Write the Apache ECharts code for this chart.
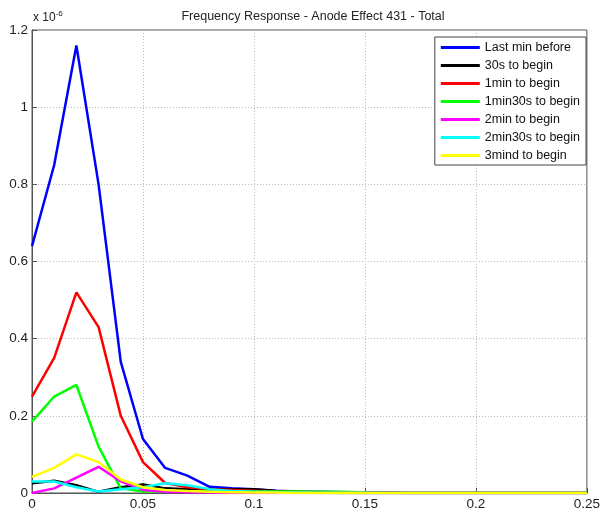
<!DOCTYPE html>
<html>
<head>
<meta charset="utf-8">
<script src="https://cdn.jsdelivr.net/npm/echarts@6/dist/echarts.min.js"></script>
<style>
  html, body { margin: 0; padding: 0; background: #fff; }
  #main { width: 603px; height: 515px; }
</style>
</head>
<body>
<div id="main"></div>
<script>
// frequency axis
const freq = [0, 0.01, 0.02, 0.03, 0.04, 0.05, 0.06, 0.07, 0.08, 0.09, 0.1, 0.11, 0.12,
  0.13, 0.14, 0.15, 0.16, 0.17, 0.18, 0.19, 0.2, 0.21, 0.22, 0.23, 0.24, 0.25];

// amplitudes, units of 1e-6
const lastMinBefore = [0.64, 0.85, 1.16, 0.80, 0.34, 0.14, 0.065, 0.045, 0.016, 0.012, 0.01, 0.006, 0.004,
  0.003, 0.002, 0.001, 0.001, 0, 0, 0, 0, 0, 0, 0, 0, 0];
const s30ToBegin = [0.025, 0.032, 0.02, 0.003, 0.015, 0.022, 0.012, 0.01, 0.01, 0.01, 0.01, 0.005, 0.002,
  0.001, 0, 0, 0, 0, 0, 0, 0, 0, 0, 0, 0, 0];
const min1ToBegin = [0.25, 0.35, 0.52, 0.43, 0.2, 0.08, 0.026, 0.015, 0.01, 0.008, 0.006, 0.004, 0.003,
  0.002, 0.001, 0, 0, 0, 0, 0, 0, 0, 0, 0, 0, 0];
const min1s30ToBegin = [0.185, 0.25, 0.28, 0.12, 0.012, 0.004, 0.004, 0.004, 0.004, 0.004, 0.004, 0.004, 0.004,
  0.003, 0.003, 0.001, 0, 0, 0, 0, 0, 0, 0, 0, 0, 0];
const min2ToBegin = [0, 0.012, 0.04, 0.068, 0.03, 0.008, 0.003, 0.002, 0.001, 0, 0, 0, 0,
  0, 0, 0, 0, 0, 0, 0, 0, 0, 0, 0, 0, 0];
const min2s30ToBegin = [0.03, 0.03, 0.015, 0.004, 0.01, 0.015, 0.025, 0.02, 0.01, 0.005, 0.003, 0.002, 0.001,
  0, 0, 0, 0, 0, 0, 0, 0, 0, 0, 0, 0, 0];
const min3ToBegin = [0.042, 0.065, 0.1, 0.08, 0.035, 0.015, 0.008, 0.005, 0.003, 0.002, 0.001, 0.001, 0,
  0, 0, 0, 0, 0, 0, 0, 0, 0, 0, 0, 0, 0];

const seriesNames = ["Last min before", "30s to begin", "1min to begin", "1min30s to begin",
  "2min to begin", "2min30s to begin", "3mind to begin"];
const seriesData = [lastMinBefore, s30ToBegin, min1ToBegin, min1s30ToBegin,
  min2ToBegin, min2s30ToBegin, min3ToBegin];
const colors = ["#0000ff", "#000000", "#ff0000", "#00ff00", "#ff00ff", "#00ffff", "#ffff00"];

const chart = echarts.init(document.getElementById("main"));

const font = "Liberation Sans, Arial, sans-serif";

const option = {
  animation: false,
  color: colors,
  title: {
    text: "Frequency Response - Anode Effect 431 - Total",
    left: 308,
    textAlign: "center",
    top: 5,
    textStyle: { fontSize: 12.5, fontWeight: "normal", color: "#222", fontFamily: font }
  },
  graphic: [{
    type: "text",
    left: 33,
    top: 10,
    style: {
      text: "{a|x 10}{b|-6}",
      rich: {
        a: { fontSize: 12, fill: "#222", fontFamily: font },
        b: { fontSize: 8, fill: "#222", fontFamily: font, verticalAlign: "top", padding: [0, 0, 8, 0] }
      }
    }
  }],
  legend: {
    orient: "vertical",
    right: 17,
    top: 37,
    icon: "rect",
    itemWidth: 39,
    itemHeight: 3,
    itemGap: 5,
    padding: [4, 6, 3, 6],
    backgroundColor: "#fff",
    borderColor: "#444",
    borderWidth: 1,
    textStyle: { fontSize: 12.5, color: "#111", fontFamily: font, padding: [0, 0, 0, 0] },
    data: seriesNames
  },
  grid: {
    left: 32, right: 13, top: 30, bottom: 22,
    show: true, borderColor: "#555", borderWidth: 1
  },
  xAxis: {
    type: "value",
    min: 0, max: 0.25, interval: 0.05,
    axisLine: { lineStyle: { color: "#555" } },
    axisTick: { inside: true, length: 5, lineStyle: { color: "#555" } },
    axisLabel: { fontSize: 13.5, color: "#222", fontFamily: font, margin: 4 },
    splitLine: { lineStyle: { color: "#bbb", type: [1, 2] } }
  },
  yAxis: {
    type: "value",
    min: 0, max: 1.2, interval: 0.2,
    axisLine: { show: true, lineStyle: { color: "#555" } },
    axisTick: { show: true, inside: true, length: 5, lineStyle: { color: "#555" } },
    axisLabel: { fontSize: 13.5, color: "#222", fontFamily: font, margin: 4 },
    splitLine: { lineStyle: { color: "#bbb", type: [1, 2] } }
  },
  series: seriesNames.map((name, i) => ({
    name: name,
    type: "line",
    symbol: "none",
    data: freq.map((f, j) => [f, seriesData[i][j]]),
    lineStyle: { width: 2.5, color: colors[i] },
    itemStyle: { color: colors[i] }
  }))
};

chart.setOption(option);
</script>
</body>
</html>
